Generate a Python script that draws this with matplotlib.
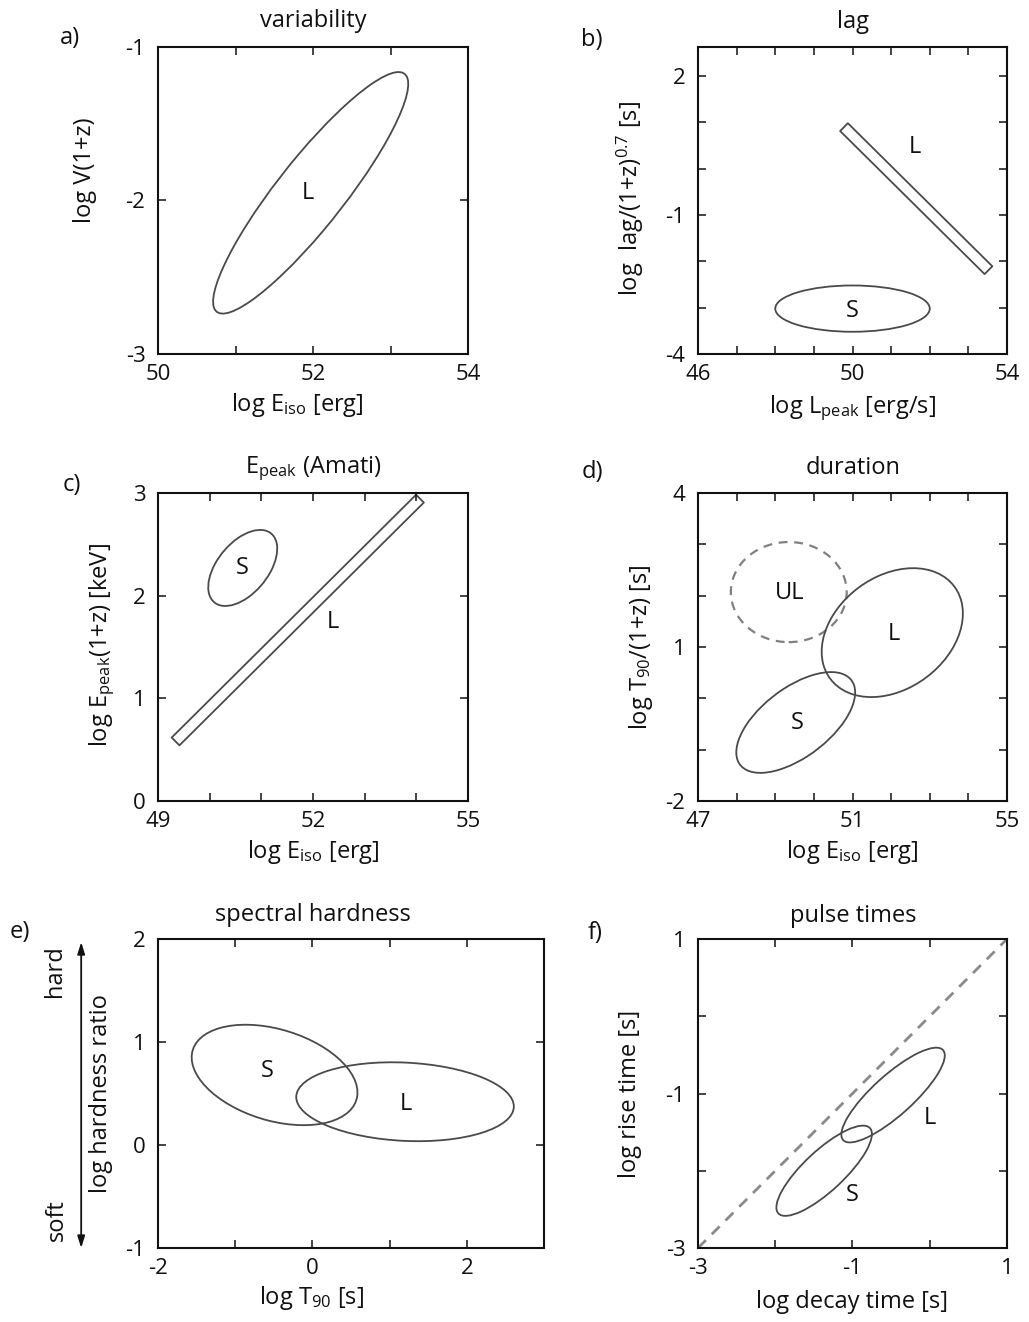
import numpy as np
import matplotlib
matplotlib.use("Agg")
import matplotlib.pyplot as plt
from matplotlib.patches import Ellipse, Polygon

plt.rcParams['font.family'] = ['Open Sans', 'DejaVu Sans']
plt.rcParams['mathtext.fontset'] = 'custom'
plt.rcParams['mathtext.rm'] = 'Open Sans'
plt.rcParams['mathtext.it'] = 'Open Sans:italic'
plt.rcParams['mathtext.bf'] = 'Open Sans:bold'

# ---------------- data ----------------
# a) variability
a_xlim, a_ylim = (50, 54), (-3, -1)
a_xticks, a_xlabels = [50, 51, 52, 53, 54], ['50', '', '52', '', '54']
a_yticks, a_ylabels = [-3, -2, -1], ['-3', '-2', '-1']
a_L = dict(center=(51.97, -1.95), width=2.91, height=0.59, angle=30.8)
a_text = [('L', 51.94, -1.95)]

# b) lag
b_xlim, b_ylim = (46, 54), (-4, 2.63)
b_xticks, b_xlabels = list(range(46, 55)), ['46', '', '', '', '50', '', '', '', '54']
b_yticks, b_ylabels = list(range(-4, 3)), ['-4', '', '', '-1', '', '', '2']
b_L_band = [(49.78, 0.90), (53.52, -2.19)]
b_S = dict(center=(50.0, -3.02), width=4.0, height=1.0, angle=0)
b_text = [('L', 51.62, 0.47), ('S', 50.0, -3.08)]

# c) Epeak (Amati)
c_xlim, c_ylim = (49, 55), (0, 3)
c_xticks, c_xlabels = list(range(49, 56)), ['49', '', '', '52', '', '', '55']
c_yticks, c_ylabels = [0, 1, 2, 3], ['0', '1', '2', '3']
c_L_band = [(49.34, 0.58), (54.07, 2.945)]
c_S = dict(center=(50.64, 2.27), width=1.40, height=0.61, angle=19.5)
c_text = [('S', 50.64, 2.27), ('L', 52.38, 1.74)]

# d) duration
d_xlim, d_ylim = (47, 55), (-2, 4)
d_xticks, d_xlabels = list(range(47, 56)), ['47', '', '', '', '51', '', '', '', '55']
d_yticks, d_ylabels = list(range(-2, 5)), ['-2', '', '', '1', '', '', '4']
d_UL = dict(center=(49.35, 2.07), width=3.0, height=1.95, angle=0)
d_L = dict(center=(52.03, 1.28), width=3.78, height=2.32, angle=18.8)
d_S = dict(center=(49.53, -0.47), width=3.35, height=1.45, angle=26)
d_text = [('UL', 49.37, 2.05), ('L', 52.07, 1.26), ('S', 49.56, -0.49)]

# e) spectral hardness
e_xlim, e_ylim = (-2, 3), (-1, 2)
e_xticks, e_xlabels = [-2, -1, 0, 1, 2, 3], ['-2', '', '0', '', '2', '']
e_yticks, e_ylabels = [-1, 0, 1, 2], ['-1', '0', '1', '2']
e_S = dict(center=(-0.49, 0.68), width=2.18, height=0.90, angle=-10.9)
e_L = dict(center=(1.20, 0.42), width=2.82, height=0.76, angle=-2)
e_text = [('S', -0.58, 0.72), ('L', 1.21, 0.40)]

# f) pulse times
f_xlim, f_ylim = (-3, 1), (-3, 1)
f_xticks, f_xlabels = [-3, -2, -1, 0, 1], ['-3', '', '-1', '', '1']
f_yticks, f_ylabels = [-3, -2, -1, 0, 1], ['-3', '', '-1', '', '1']
f_L = dict(center=(-0.475, -1.02), width=1.74, height=0.52, angle=42)
f_S = dict(center=(-1.367, -2.0), width=1.62, height=0.52, angle=43)
f_diag_x, f_diag_y = [-3, 1], [-3, 1]
f_text = [('L', 0.0, -1.32), ('S', -1.0, -2.32)]

# ---------------- figure ----------------
W, H = 1029, 1322
fig = plt.figure(figsize=(W / 100, H / 100), dpi=100)

LINE = '#4a4a4a'
INK = '#111111'
FS = 17      # titles, axis labels, region labels
FS_TICK = 16


def make_axes(x0, x1, y0, y1):
    """Axes placed by pixel box (left, right, top, bottom)."""
    return fig.add_axes([x0 / W, 1 - y1 / H, (x1 - x0) / W, (y1 - y0) / H])


def style(ax, xlim, ylim, xt, xl, yt, yl):
    ax.set_xlim(*xlim)
    ax.set_ylim(*ylim)
    ax.set_xticks(xt)
    ax.set_xticklabels(xl)
    ax.set_yticks(yt)
    ax.set_yticklabels(yl)
    ax.tick_params(direction='in', length=6, width=1.1, top=True, right=True,
                   labelsize=FS_TICK, colors=INK)
    ax.tick_params(axis='x', pad=7)
    ax.tick_params(axis='y', pad=9)
    for s in ax.spines.values():
        s.set_linewidth(1.5)
        s.set_color(INK)


def ellipse(ax, e, **kw):
    p = dict(fill=False, edgecolor=LINE, linewidth=1.3)
    p.update(kw)
    ax.add_patch(Ellipse(e['center'], e['width'], e['height'], angle=e['angle'], **p))


def band(ax, pts, width_px):
    d0 = ax.transData.transform(pts[0])
    d1 = ax.transData.transform(pts[1])
    v = d1 - d0
    n = np.array([-v[1], v[0]]) / np.hypot(*v) * width_px / 2
    corners = np.array([d0 + n, d1 + n, d1 - n, d0 - n])
    data = ax.transData.inverted().transform(corners)
    ax.add_patch(Polygon(data, closed=True, fill=False, edgecolor=LINE,
                         linewidth=1.3, joinstyle='round', clip_on=False))


def labels(ax, items):
    for t, x, y in items:
        ax.text(x, y, t, ha='center', va='center', fontsize=FS, color=INK)


def axis_text(ax, xlabel, xpos, ylabel, ypos):
    ax.set_xlabel(xlabel, fontsize=FS, color=INK)
    ax.xaxis.set_label_coords(*xpos)
    ax.xaxis.label.set_va('center')
    ax.set_ylabel(ylabel, fontsize=FS, color=INK)
    ax.yaxis.set_label_coords(*ypos)
    ax.yaxis.label.set_va('center')


def fig_text(x, y, s, **kw):
    fig.text(x / W, 1 - y / H, s, ha='center', va='center', fontsize=FS,
             color=INK, **kw)


# a) variability
ax = make_axes(158, 468, 47, 354)
style(ax, a_xlim, a_ylim, a_xticks, a_xlabels, a_yticks, a_ylabels)
ellipse(ax, a_L)
labels(ax, a_text)
axis_text(ax, r'log E$_{\mathrm{iso}}$ [erg]', (0.45, -0.166),
          'log V(1+z)', (-0.235, 0.6))
fig_text(313, 21, 'variability')
fig_text(70, 38, 'a)')

# b) lag
ax = make_axes(698, 1007, 47, 354)
style(ax, b_xlim, b_ylim, b_xticks, b_xlabels, b_yticks, b_ylabels)
band(ax, b_L_band, 11)
ellipse(ax, b_S)
labels(ax, b_text)
axis_text(ax, r'log L$_{\mathrm{peak}}$ [erg/s]', (0.5, -0.176),
          r'log  lag/(1+z)$^{0.7}$ [s]', (-0.22, 0.505))
fig_text(853, 22, 'lag')
fig_text(592, 40, 'b)')

# c) Epeak (Amati)
ax = make_axes(158, 468, 493, 801)
style(ax, c_xlim, c_ylim, c_xticks, c_xlabels, c_yticks, c_ylabels)
band(ax, c_L_band, 11)
ellipse(ax, c_S)
labels(ax, c_text)
axis_text(ax, r'log E$_{\mathrm{iso}}$ [erg]', (0.5, -0.166),
          r'log E$_{\mathrm{peak}}$(1+z) [keV]', (-0.18, 0.506))
fig_text(313, 469, r'E$_{\mathrm{peak}}$ (Amati)')
fig_text(72, 485, 'c)')

# d) duration
ax = make_axes(698, 1007, 493, 801)
style(ax, d_xlim, d_ylim, d_xticks, d_xlabels, d_yticks, d_ylabels)
ellipse(ax, d_UL, edgecolor='#808080', linewidth=1.6, linestyle=(0, (4, 3)))
ellipse(ax, d_L)
ellipse(ax, d_S)
labels(ax, d_text)
axis_text(ax, r'log E$_{\mathrm{iso}}$ [erg]', (0.5, -0.166),
          r'log T$_{90}$/(1+z) [s]', (-0.184, 0.5))
fig_text(853, 468, 'duration')
fig_text(592, 472, 'd)')

# e) spectral hardness
ax = make_axes(158, 544, 939, 1248)
style(ax, e_xlim, e_ylim, e_xticks, e_xlabels, e_yticks, e_ylabels)
ellipse(ax, e_S)
ellipse(ax, e_L)
labels(ax, e_text)
axis_text(ax, r'log T$_{90}$ [s]', (0.398, -0.163),
          'log hardness ratio', (-0.147, 0.5))
ax.annotate('', xy=(-0.199, 0.99), xytext=(-0.199, 0.0), xycoords='axes fraction',
            textcoords='axes fraction',
            arrowprops=dict(arrowstyle='<|-|>,head_length=0.7,head_width=0.22',
                            color=INK, lw=1.3, shrinkA=0, shrinkB=0))
ax.text(-0.268, 0.895, 'hard', transform=ax.transAxes, rotation=90,
        ha='center', va='center', fontsize=FS, color=INK)
ax.text(-0.263, 0.09, 'soft', transform=ax.transAxes, rotation=90,
        ha='center', va='center', fontsize=FS, color=INK)
fig_text(313, 915, 'spectral hardness')
fig_text(20, 932, 'e)')

# f) pulse times
ax = make_axes(698, 1007, 939, 1248)
style(ax, f_xlim, f_ylim, f_xticks, f_xlabels, f_yticks, f_ylabels)
ax.plot(f_diag_x, f_diag_y, color='#8a8a8a', lw=2.0, linestyle=(0, (4, 3)))
ellipse(ax, f_L)
ellipse(ax, f_S)
labels(ax, f_text)
axis_text(ax, 'log decay time [s]', (0.497, -0.175),
          'log rise time [s]', (-0.22, 0.5))
fig_text(853, 916, 'pulse times')
fig_text(595, 933, 'f)')

fig.savefig('out.png', dpi=100, facecolor='white')
